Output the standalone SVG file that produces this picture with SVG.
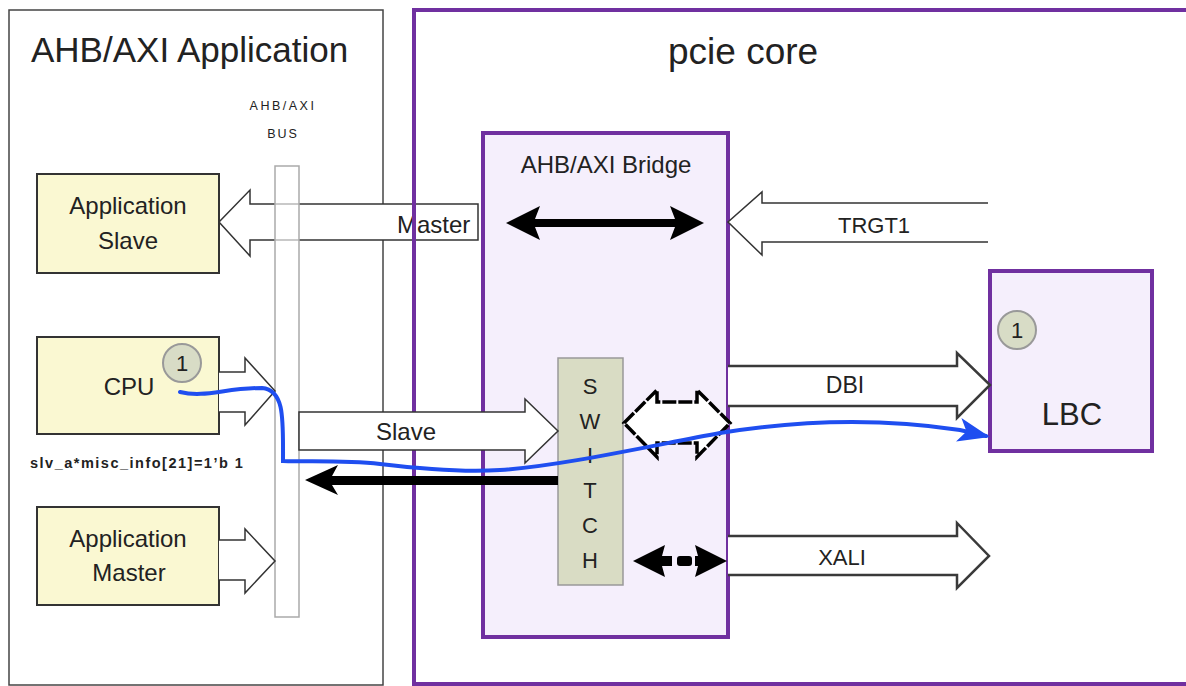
<svg xmlns="http://www.w3.org/2000/svg" width="1186" height="686" viewBox="0 0 1186 686">
<style>
text{font-family:"Liberation Sans",Arial,sans-serif;fill:#222}
.frame{fill:none;stroke:#444;stroke-width:1.5}
.purple{fill:#f5effc;stroke:#7030a0;stroke-width:4}
.ybox{fill:#faf8d2;stroke:#333;stroke-width:2}
.hollow{fill:#fff;stroke:#333;stroke-width:1.5}
.dotted{fill:#fff;stroke:#3a3a3a;stroke-width:2.5}
.solid{fill:#000;stroke:none}
.badge{fill:#d8dcc6;stroke:#999;stroke-width:2}
.lbl{font-size:24px;text-anchor:middle}
.sw{font-size:22px;text-anchor:middle}
</style>
<defs>
<marker id="blueHead" markerWidth="8" markerHeight="6" refX="7" refY="3" orient="auto" markerUnits="strokeWidth">
<path d="M0,0 L8,3 L0,6 L2,3 Z" fill="#1f4ef0"/>
</marker>
</defs>
<rect width="1186" height="686" fill="#fff"/>

<g id="app-frame">
<rect class="frame" x="9" y="10" width="374" height="675"/>
<text x="31" y="62" font-size="35">AHB/AXI Application</text>
</g>

<g id="master-arrow">
<path class="hollow" d="M478,204 L250,204 L250,190 L219,222 L250,256 L250,240 L478,240 Z"/>
<text x="397" y="233" font-size="24">Master</text>
</g>

<g id="pcie-core">
<rect x="414" y="10" width="800" height="674" fill="none" stroke="#7030a0" stroke-width="4"/>
<text x="668" y="64" font-size="37">pcie core</text>
</g>

<g id="bridge">
<rect class="purple" x="483" y="133" width="245" height="504"/>
<text x="606" y="173" font-size="24" text-anchor="middle">AHB/AXI Bridge</text>
</g>

<g id="lbc">
<rect class="purple" x="990" y="271" width="162" height="180"/>
<text x="1072" y="425" font-size="31" text-anchor="middle">LBC</text>
<circle class="badge" cx="1017" cy="330" r="19"/>
<text x="1017" y="338" font-size="22" text-anchor="middle">1</text>
</g>

<g id="app-slave">
<rect class="ybox" x="37" y="174" width="182" height="99"/>
<text class="lbl" x="128" y="214" font-size="26">Application</text>
<text class="lbl" x="128" y="249">Slave</text>
</g>

<g id="cpu">
<rect class="ybox" x="37" y="337" width="182" height="97"/>
<text class="lbl" x="129" y="395">CPU</text>
<circle class="badge" cx="182" cy="363" r="19"/>
<text x="182" y="371" font-size="22" text-anchor="middle">1</text>
</g>

<g id="app-master">
<rect class="ybox" x="37" y="507" width="182" height="98"/>
<text class="lbl" x="128" y="547">Application</text>
<text class="lbl" x="129" y="581">Master</text>
</g>

<text x="30" y="468" font-size="14.5" font-weight="bold" letter-spacing="1.5">slv_a*misc_info[21]=1’b 1</text>

<g id="bus">
<text x="283" y="110" font-size="12.5" text-anchor="middle" letter-spacing="2.5">AHB/AXI</text>
<text x="283" y="138" font-size="12.5" text-anchor="middle" letter-spacing="2">BUS</text>
<rect x="275" y="166" width="24" height="451" fill="#fff" fill-opacity="0.65" stroke="#aaa" stroke-width="1.5"/>
</g>

<g id="switch">
<rect x="558" y="358" width="65" height="227" fill="#d9dcc4" stroke="#999" stroke-width="1.5"/>
<text class="sw" x="590" y="394">S</text>
<text class="sw" x="590" y="429">W</text>
<text class="sw" x="590" y="463">I</text>
<text class="sw" x="590" y="498">T</text>
<text class="sw" x="590" y="533">C</text>
<text class="sw" x="590" y="568">H</text>
</g>

<g id="connectors">
<path class="hollow" d="M219,372 L245,372 L245,358 L275,391 L245,425 L245,412 L219,412"/>
<path class="hollow" d="M219,540 L245,540 L245,529 L275,561 L245,593 L245,580 L219,580"/>
<path class="hollow" d="M299,412 L525,412 L525,399 L558,431 L525,463 L525,450 L299,450 Z"/>
<text x="406" y="440" font-size="24" text-anchor="middle">Slave</text>
<path class="hollow" d="M988,203 L762,203 L762,192 L728,222 L762,255 L762,242 L988,242"/>
<text x="874" y="233" font-size="22" text-anchor="middle">TRGT1</text>
<path class="dotted" d="M728,366 L957,366 L957,353 L990,385 L957,418 L957,406 L728,406"/>
<text x="845" y="393" font-size="23" text-anchor="middle">DBI</text>
<path class="dotted" d="M728,536 L957,536 L957,523 L989,556 L957,588 L957,575 L728,575"/>
<text x="842" y="565" font-size="22" text-anchor="middle">XALI</text>
<path d="M624,423 L657,390 L657,402 L697,402 L697,390 L730,423 L697,457 L697,443 L657,443 L657,457 Z" fill="#fff" stroke="#000" stroke-width="3.5" stroke-dasharray="14 2"/>
<path class="solid" d="M506,223 L540,206 L535,219 L675,219 L670,206 L704,223 L670,240 L675,227 L535,227 L540,240 Z"/>
<path class="solid" d="M305,480 L338,465 L332,476 L558,476 L558,485 L332,485 L338,495 Z"/>
<path class="solid" d="M633,561 L665,545 L662,556 L672,556 L672,566 L662,566 L665,577 Z"/>
<rect class="solid" x="677" y="556" width="15" height="10" rx="3"/>
<path class="solid" d="M727,561 L695,545 L698,556 L695,556 L695,566 L698,566 L695,577 Z"/>
<path d="M180,392 C205,398 225,388 262,388 C285,390 283,420 283,461 C310,462 345,460 380,464 C430,470 470,472 500,470 C560,466 640,448 720,433 C800,420 880,418 960,430 L986,436" fill="none" stroke="#1f4ef0" stroke-width="4" stroke-linecap="round" marker-end="url(#blueHead)"/>
</g>
</svg>
